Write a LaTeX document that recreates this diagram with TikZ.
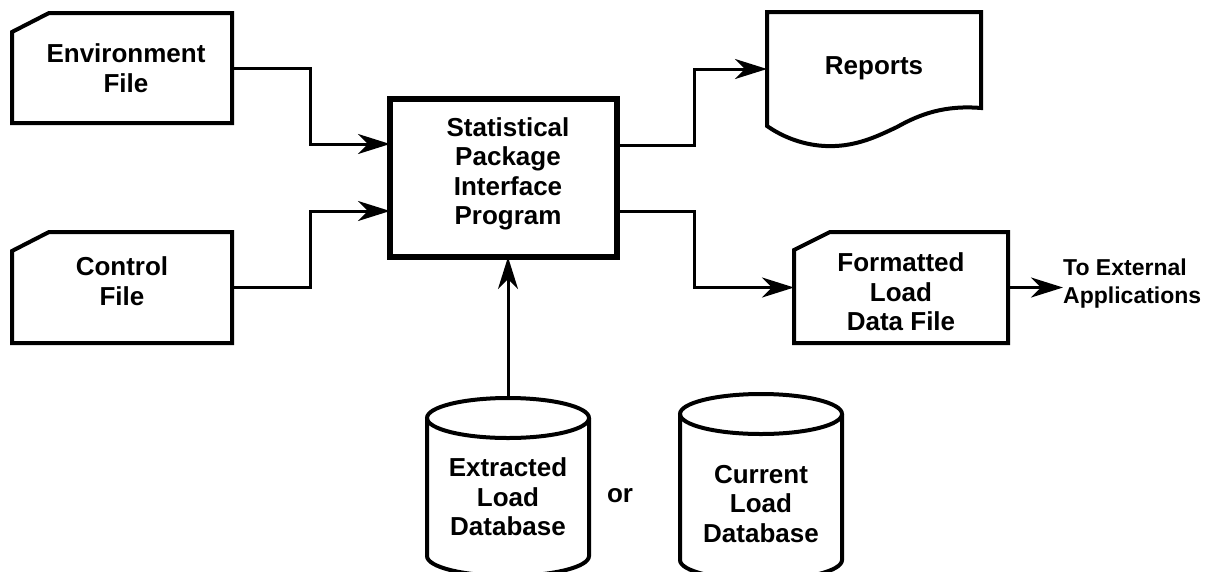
\documentclass[tikz,border=0pt]{standalone}
\usepackage{fontspec}
\setmainfont{Liberation Sans}
\usetikzlibrary{arrows.meta}
\begin{document}
\begin{tikzpicture}[x=1pt,y=-1pt,
  txt/.style={font=\bfseries\fontsize{26}{29.5}\selectfont, align=center, inner sep=0pt},
  smalltxt/.style={font=\bfseries\fontsize{23}{28}\selectfont, align=left, inner sep=0pt},
  area/.style={draw=none, inner sep=0pt, outer sep=0pt},
  filebox/.style={line width=4pt, line join=miter},
  mainbox/.style={draw, line width=5.5pt, inner sep=0pt, outer sep=0pt},
  conn/.style={line width=3pt, -{Stealth[length=32pt,width=20pt,inset=10pt]}},
  wire/.style={line width=3pt}]
\useasboundingbox[fill=white] (0,0) rectangle (1222,571);

% areas of the shapes
\node[area, minimum width=220pt, minimum height=110pt] (env) at (122,68) {};
\node[area, minimum width=220pt, minimum height=111pt] (ctl) at (122,287.5) {};
\node[mainbox, minimum width=227pt, minimum height=158pt] (main) at (503.5,178) {};
\node[area, minimum width=214pt, minimum height=114pt] (rep) at (874,69) {};
\node[area, minimum width=214pt, minimum height=111pt] (fmt) at (901,287.5) {};
\node[area, minimum width=162pt, minimum height=178pt] (ext) at (508,487) {};
\node[area, minimum width=162pt, minimum height=186pt] (cur) at (761,487) {};

% file shapes with cut corner
\draw[filebox] ([yshift=-19pt]env.north west) -- ([xshift=37pt]env.north west) -- (env.north east) -- (env.south east) -- (env.south west) -- cycle;
\draw[filebox] ([yshift=-19pt]ctl.north west) -- ([xshift=37pt]ctl.north west) -- (ctl.north east) -- (ctl.south east) -- (ctl.south west) -- cycle;
\draw[filebox] ([yshift=-18pt]fmt.north west) -- ([xshift=36pt]fmt.north west) -- (fmt.north east) -- (fmt.south east) -- (fmt.south west) -- cycle;

% report (document) shape
\draw[filebox] (rep.south west) -- (rep.north west) -- (rep.north east) -- ([yshift=18pt]rep.south east)
  .. controls (945,105) and (920,114) .. (897,127)
  .. controls (880,135) and (860,145) .. (835,146)
  .. controls (815,147) and (790,142) .. (rep.south west) -- cycle;

% cylinders
\draw[line width=4pt] (508,418) ellipse [x radius=81, y radius=20];
\draw[line width=4pt] (427,418) -- (427,556) arc[start angle=180, end angle=0, x radius=81, y radius=20] -- (589,418);
\draw[line width=4pt] (761,414) ellipse [x radius=81, y radius=20];
\draw[line width=4pt] (680,414) -- (680,560) arc[start angle=180, end angle=0, x radius=81, y radius=20] -- (842,414);

% texts
\node[txt] (envt) at (126,68) {Environment\\File};
\node[txt] (ctlt) at (122,281) {Control\\File};
\node[txt] (maint) at (508,174) {Statistical\\Package\\Interface\\Program};
\node[txt] (rept) at (874,68) {Reports};
\node[txt] (fmtt) at (901,292) {Formatted\\Load\\Data File};
\node[txt] (extt) at (508,497) {Extracted\\Load\\Database};
\node[txt] (curt) at (761,504) {Current\\Load\\Database};
\node[txt] (ort) at (620,496) {or};
\node[smalltxt, anchor=west] (apps) at (1063,284) {To External\\Applications};

% connectors
\draw[conn] (env.east) -- ++(78,0) |- ([yshift=34pt]main.west);
\draw[conn] (ctl.east) -- ++(78,0) |- ([yshift=-33pt]main.west);
\draw[conn] ([yshift=33pt]main.east) -- ++(77,0) |- (rep.west);
\draw[conn] ([yshift=-33pt]main.east) -- ++(77,0) |- (fmt.west);
\draw[conn] (ext.north) -- (ext.north |- main.south);
\draw[conn] (fmt.east) -- (fmt.east -| apps.west);
\end{tikzpicture}
\end{document}
